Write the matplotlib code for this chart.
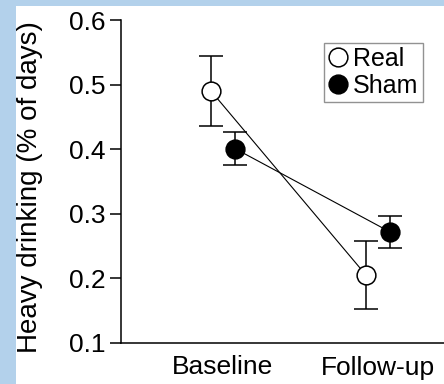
import matplotlib
matplotlib.use('Agg')
import matplotlib.pyplot as plt
from matplotlib.lines import Line2D
from matplotlib.patches import Rectangle
import numpy as np

plt.rcParams['font.family'] = ['Liberation Sans', 'DejaVu Sans']

# data
groups = ['Baseline', 'Follow-up']
real_mean = [0.49, 0.205]
real_err = [0.054, 0.053]
sham_mean = [0.401, 0.272]
sham_err = [0.025, 0.025]

W, H = 444, 384
fig = plt.figure(figsize=(W / 100, H / 100), dpi=100, facecolor='white')
ax = fig.add_axes([121 / W, 41 / H, 323 / W, 323 / H])

x = np.arange(len(groups))
off = 0.077

# connecting lines
ax.plot(x - off, real_mean, color='black', lw=0.8, zorder=1)
ax.plot(x + off, sham_mean, color='black', lw=0.8, zorder=1)

ax.errorbar(x - off, real_mean, yerr=real_err, fmt='o', ms=13.5, mfc='white',
            mec='black', mew=1.1, ecolor='black', elinewidth=1.1, capsize=8.5,
            capthick=1.1, zorder=3)
ax.errorbar(x + off, sham_mean, yerr=sham_err, fmt='o', ms=13.5, mfc='black',
            mec='black', mew=1.1, ecolor='black', elinewidth=1.1, capsize=8.5,
            capthick=1.1, zorder=3)

ax.set_xlim(-0.658, 1.426)
ax.set_ylim(0.1, 0.6)
ax.set_yticks([0.1, 0.2, 0.3, 0.4, 0.5, 0.6])
ax.set_yticklabels(['0.1', '0.2', '0.3', '0.4', '0.5', '0.6'])
ax.set_xticks(x)
ax.set_xticklabels(groups)
ax.tick_params(axis='y', length=8, width=1.1, pad=3, labelsize=19)
ax.tick_params(axis='x', length=0, pad=9, labelsize=19)
for s in ['top', 'right']:
    ax.spines[s].set_visible(False)
for s in ['left', 'bottom']:
    ax.spines[s].set_linewidth(1.1)
ax.spines['bottom'].set_clip_on(False)

handles = [Line2D([], [], ls='none', marker='o', ms=13.5, mfc='white', mec='black', mew=1.1),
           Line2D([], [], ls='none', marker='o', ms=13.5, mfc='black', mec='black', mew=1.1)]
leg = ax.legend(handles, ['Real', 'Sham'], loc='upper right', bbox_to_anchor=(0.935, 0.93),
                fontsize=18, frameon=True, fancybox=False, borderpad=0.18,
                handlelength=0.75, handletextpad=0.25, labelspacing=0.1, borderaxespad=0)
leg.get_frame().set_edgecolor('#777777')
leg.get_frame().set_linewidth(1.0)

fig.text(43 / W, 1 - 353 / H, 'Heavy drinking (% of days)', rotation=90,
         ha='right', va='bottom', fontsize=20)

# light blue frame strips around the picture
blue = '#b3d1eb'
fig.add_artist(Rectangle((0, 0), 16 / W, 1, transform=fig.transFigure,
                         facecolor=blue, edgecolor='none', zorder=10))
fig.add_artist(Rectangle((0, 1 - 6 / H), 1, 6 / H, transform=fig.transFigure,
                         facecolor=blue, edgecolor='none', zorder=10))

fig.savefig('out.png', dpi=100)
